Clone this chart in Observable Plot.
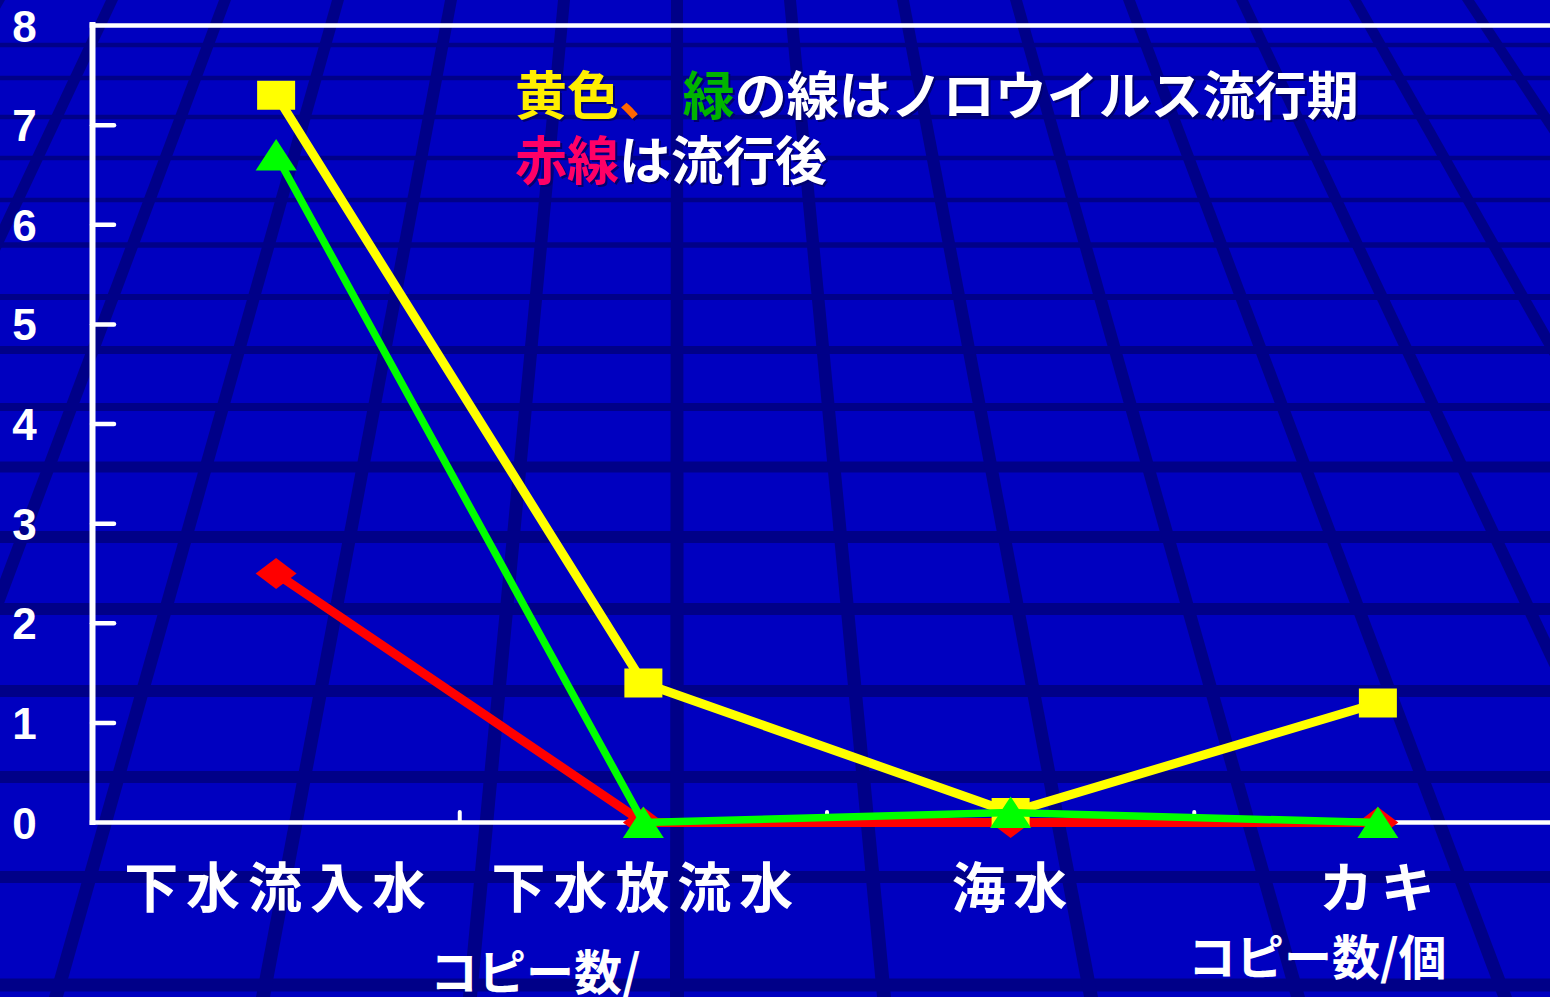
<!DOCTYPE html>
<html>
<head>
<meta charset="utf-8">
<script src="https://cdn.jsdelivr.net/npm/d3@7"></script>
<script src="https://cdn.jsdelivr.net/npm/@observablehq/plot@0.6"></script>
<style>
html, body { margin: 0; padding: 0; background: #0000c0; width: 1550px; height: 997px; overflow: hidden; }
#wrap { position: relative; width: 1550px; height: 997px; }
#bg, #chart { position: absolute; left: 0; top: 0; }
.note { position: absolute; font-family: "Noto Sans CJK JP", "Noto Sans CJK SC", sans-serif; font-weight: 700; white-space: nowrap; color: #ffffff; }
#legend1 { left: 515px; top: 63px; font-size: 52px; line-height: 60px; height: 60px; text-shadow: 2px 2px 0 #000070; white-space: pre; }
#legend2 { left: 515px; top: 128px; font-size: 52px; line-height: 60px; height: 60px; text-shadow: 2px 2px 0 #000070; }
#legend1 span, #legend2 span { display: inline-block; line-height: 60px; height: 60px; vertical-align: top; white-space: pre; }
#title1 { left: 430px; top: 945px; font-size: 48px; line-height: 48px; }
#title2 { left: 1188px; top: 930px; font-size: 48px; line-height: 48px; }
#chart g[aria-label="x-axis tick label"] text { letter-spacing: 8px; }
</style>
</head>
<body>
<div id="wrap">
  <svg id="bg" width="1550" height="997"></svg>
  <div id="chart"></div>
  <div class="note" id="legend1"></div>
  <div class="note" id="legend2"></div>
  <div class="note" id="title1"></div>
  <div class="note" id="title2"></div>
</div>
<script>
// ---- data ----
const categories = ["下水流入水", "下水放流水", "海水", "カキ"];
const yellowValues = [7.3, 1.4, 0.1, 1.2];   // ノロウイルス流行期
const greenValues  = [6.7, 0, 0.1, 0];       // ノロウイルス流行期
const redValues    = [2.5, 0, 0, 0];         // 流行後
const yTicks = [0, 1, 2, 3, 4, 5, 6, 7, 8];
const legendLine1 = [["黄色", "#ffee00"], ["、", "#ff6600"], [" ", "#ffffff"], ["緑", "#00b400"], ["の線はノロウイルス流行期", "#ffffff"]];
const legendLine2 = [["赤線", "#ff0066"], ["は流行後", "#ffffff"]];
const axisTitle1 = "コピー数/";
const axisTitle2 = "コピー数/個";

// ---- decorative perspective background ----
(function drawBackground() {
  const bg = d3.select("#bg");
  const W = 1550, H = 997;
  const lineColor = "#000088";
  const hY = [45, 78, 117, 158, 200, 245, 297, 350, 407, 467, 537, 609, 691, 777, 877, 985];
  const hT = [4.5, 4.5, 4.5, 4.5, 4.5, 5.5, 6, 8, 8, 11, 12, 12, 12, 12, 12, 13];
  hY.forEach((y, k) => {
    bg.append("rect").attr("x", 0).attr("y", y - hT[k] / 2).attr("width", W).attr("height", hT[k]).attr("fill", lineColor);
  });
  const cx = 677, topStep = 113, botStep = 207;
  for (let k = -10; k <= 10; k++) {
    const xt = cx + k * topStep, xb = cx + k * botStep;
    bg.append("path")
      .attr("d", `M${xt - 6},0L${xt + 6},0L${xb + 7},${H}L${xb - 7},${H}Z`)
      .attr("fill", lineColor);
  }
})();

// ---- chart ----
const toRows = (vals) => vals.map((v, i) => ({i, v}));
const yellowRows = toRows(yellowValues);
const greenRows = toRows(greenValues);
const redRows = toRows(redValues);

const squareSym = {draw(ctx) { ctx.rect(-19, -14.5, 38, 29); }};
const triangleSym = {draw(ctx) { ctx.moveTo(0, -16); ctx.lineTo(20.5, 15.5); ctx.lineTo(-20.5, 15.5); ctx.closePath(); }};
const diamondSym = {draw(ctx) { ctx.moveTo(0, -15.5); ctx.lineTo(20.5, 0); ctx.lineTo(0, 15.5); ctx.lineTo(-20.5, 0); ctx.closePath(); }};

const chart = Plot.plot({
  width: 1550,
  height: 997,
  marginLeft: 92,
  marginRight: 0,
  marginTop: 25,
  marginBottom: 175,
  style: {background: "transparent", color: "white", overflow: "visible"},
  x: {type: "linear", domain: [-0.5, categories.length - 0.5], range: [92, 1561]},
  y: {domain: [yTicks[0], yTicks[yTicks.length - 1]]},
  marks: [
    Plot.axisY(yTicks, {tickSize: 0, tickPadding: 68, tickFormat: (d) => String(d), textAnchor: "middle", fontSize: 44, fontWeight: 700, fontFamily: "Liberation Sans, Arial, sans-serif", fill: "white", dy: 2, label: null}),
    Plot.axisY(yTicks.slice(1, -1), {tickSize: -22, tickFormat: () => "", stroke: "white", strokeWidth: 4.5, strokeLinecap: "round", label: null}),
    Plot.axisX(categories.map((_, i) => i), {tickSize: 0, tickPadding: 47, tickFormat: (i) => categories[i], fontSize: 54, fontWeight: 700, fontFamily: "Noto Sans CJK JP, sans-serif", fill: "white", dx: 3, label: null}),
    Plot.axisX(categories.slice(1).map((_, i) => i + 0.5), {tickSize: -10, tickFormat: () => "", stroke: "white", strokeWidth: 4, strokeLinecap: "round", label: null}),
    Plot.ruleX([-0.5], {stroke: "white", strokeWidth: 6, strokeLinecap: "square"}),
    Plot.ruleY([yTicks[0], yTicks[yTicks.length - 1]], {stroke: "white", strokeWidth: 4.5, strokeLinecap: "square"}),
    Plot.line(redRows, {x: "i", y: "v", stroke: "#ff0000", strokeWidth: 9}),
    Plot.dot(redRows, {x: "i", y: "v", symbol: diamondSym, r: 10, fill: "#ff0000", stroke: null}),
    Plot.line(yellowRows, {x: "i", y: "v", stroke: "#ffff00", strokeWidth: 9}),
    Plot.dot(yellowRows, {x: "i", y: "v", symbol: squareSym, r: 10, fill: "#ffff00", stroke: null}),
    Plot.line(greenRows, {x: "i", y: "v", stroke: "#00ff00", strokeWidth: 7.5}),
    Plot.dot(greenRows, {x: "i", y: "v", symbol: triangleSym, r: 10, fill: "#00ff00", stroke: null})
  ]
});
document.getElementById("chart").appendChild(chart);

// ---- texts ----
function fillSpans(el, parts) {
  parts.forEach(([t, c]) => {
    const s = document.createElement("span");
    s.textContent = t;
    s.style.color = c;
    el.appendChild(s);
  });
}
fillSpans(document.getElementById("legend1"), legendLine1);
fillSpans(document.getElementById("legend2"), legendLine2);
document.getElementById("title1").textContent = axisTitle1;
document.getElementById("title2").textContent = axisTitle2;
</script>
</body>
</html>
